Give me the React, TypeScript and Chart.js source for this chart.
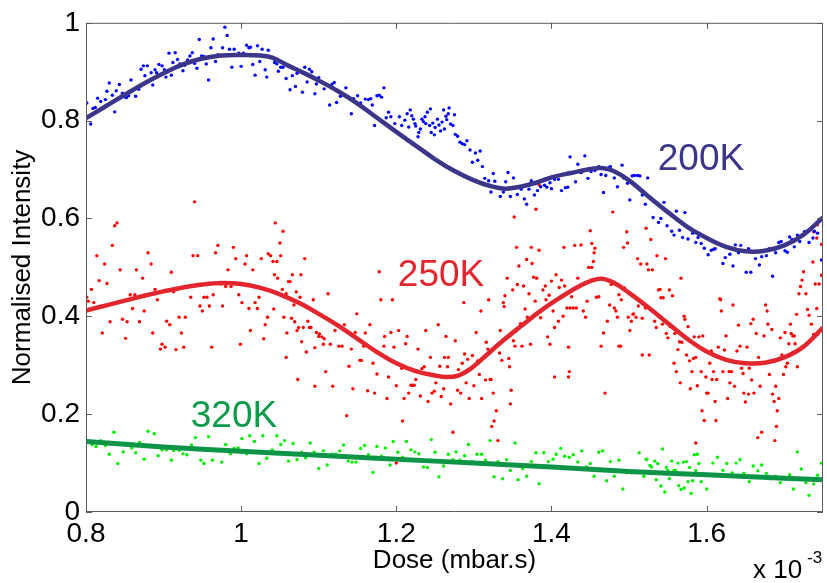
import React, { useEffect, useRef } from "react";
import { Chart, registerables } from "chart.js";

Chart.register(...registerables);

const FONT = "'Liberation Sans', Arial, Helvetica, sans-serif";

// Axis ticks (dose in units of 1e-3 mbar.s)
const doseTicks = [0.8, 1.0, 1.2, 1.4, 1.6];
const intensityTicks = [0, 0.2, 0.4, 0.6, 0.8, 1];

// Measured normalised intensity, 200 K
const points200K: [number, number][] = [
  [0.801,0.836],[0.806,0.793],[0.809,0.825],[0.812,0.827],[0.815,0.846],[0.819,0.839],[0.825,0.843],[0.827,0.86],[0.830,0.877],[0.834,0.852],
  [0.837,0.818],[0.839,0.861],[0.843,0.874],[0.847,0.856],[0.851,0.848],[0.852,0.847],[0.855,0.851],[0.858,0.883],[0.864,0.85],[0.868,0.864],
  [0.871,0.905],[0.874,0.912],[0.876,0.892],[0.879,0.912],[0.884,0.898],[0.886,0.873],[0.889,0.904],[0.891,0.898],[0.894,0.915],[0.898,0.912],
  [0.901,0.904],[0.903,0.889],[0.907,0.938],[0.910,0.893],[0.912,0.919],[0.915,0.939],[0.918,0.925],[0.921,0.916],[0.925,0.902],[0.927,0.913],
  [0.931,0.924],[0.934,0.932],[0.937,0.939],[0.940,0.917],[0.943,0.907],[0.946,0.966],[0.949,0.932],[0.952,0.931],[0.955,0.916],[0.958,0.883],
  [0.961,0.949],[0.964,0.967],[0.967,0.921],[0.970,0.935],[0.976,0.949],[0.979,0.991],[0.982,0.974],[0.985,0.946],[0.988,0.909],[0.991,0.946],
  [0.997,0.938],[1.000,0.911],[1.003,0.938],[1.007,0.954],[1.010,0.949],[1.012,0.95],[1.015,0.915],[1.018,0.893],[1.021,0.953],[1.024,0.921],
  [1.027,0.946],[1.031,0.904],[1.033,0.889],[1.035,0.944],[1.043,0.919],[1.046,0.916],[1.048,0.901],[1.051,0.909],[1.054,0.909],[1.058,0.886],
  [1.063,0.863],[1.066,0.892],[1.070,0.87],[1.072,0.897],[1.079,0.858],[1.082,0.909],[1.085,0.879],[1.088,0.905],[1.091,0.9],[1.095,0.855],
  [1.097,0.875],[1.100,0.888],[1.107,0.865],[1.110,0.874],[1.117,0.874],[1.120,0.878],
  [1.114,0.832],[1.123,0.837],[1.128,0.850],[1.135,0.867],[1.145,0.845],[1.150,0.851],[1.154,0.836],[1.160,0.844],[1.164,0.843],[1.167,0.845],
  [1.169,0.832],[1.172,0.790],[1.175,0.851],[1.178,0.852],[1.181,0.848],[1.184,0.867],[1.142,0.814],[1.187,0.806],[1.190,0.817],[1.193,0.808],
  [1.198,0.794],[1.204,0.808],[1.207,0.790],[1.211,0.801],[1.214,0.814],[1.216,0.787],[1.218,0.822],[1.220,0.810],[1.222,0.803],[1.224,0.794],
  [1.225,0.789],[1.228,0.767],[1.229,0.776],[1.231,0.783],[1.233,0.803],[1.235,0.798],[1.237,0.808],[1.238,0.794],[1.240,0.817],[1.243,0.790],
  [1.244,0.824],[1.245,0.776],[1.247,0.795],[1.249,0.771],[1.250,0.786],[1.253,0.803],[1.255,0.791],[1.257,0.779],[1.259,0.797],[1.261,0.822],
  [1.262,0.783],[1.264,0.809],[1.265,0.802],[1.267,0.814],[1.268,0.826],[1.270,0.793],[1.273,0.790],[1.275,0.812],[1.276,0.772],[1.279,0.768],
  [1.282,0.756],[1.285,0.753],[1.288,0.751],[1.291,0.759],[1.295,0.740],[1.298,0.715],[1.302,0.734],[1.305,0.719],[1.308,0.738],[1.311,0.706],
  [1.314,0.682],[1.319,0.677],[1.322,0.654],[1.325,0.692],[1.327,0.676],[1.334,0.645],[1.338,0.654],[1.341,0.675],[1.344,0.694],[1.347,0.645],
  [1.351,0.683],[1.356,0.649],[1.361,0.660],[1.365,0.640],[1.368,0.629],[1.371,0.660],[1.374,0.677],[1.378,0.648],[1.382,0.657],[1.386,0.665],
  [1.391,0.668],[1.394,0.664],[1.398,0.673],[1.400,0.661],[1.404,0.680],[1.409,0.680],[1.413,0.657],[1.418,0.663],[1.421,0.664],
  [1.424,0.726],[1.431,0.675],[1.434,0.711],[1.438,0.694],[1.439,0.695],[1.443,0.728],[1.447,0.682],[1.451,0.696],[1.456,0.698],[1.461,0.706],
  [1.464,0.690],[1.467,0.653],[1.470,0.688],[1.475,0.705],[1.476,0.706],[1.481,0.683],[1.485,0.665],[1.491,0.709],[1.493,0.683],[1.498,0.672],
  [1.501,0.638],[1.504,0.687],[1.507,0.688],[1.511,0.688],[1.514,0.687],[1.517,0.648],[1.521,0.629],[1.524,0.683],[1.531,0.602],[1.535,0.633],
  [1.538,0.592],[1.541,0.600],[1.545,0.633],[1.549,0.585],[1.552,0.611],[1.555,0.574],[1.558,0.566],[1.561,0.615],[1.565,0.576],[1.569,0.561],
  [1.572,0.612],[1.576,0.558],[1.582,0.570],[1.586,0.551],[1.589,0.561],[1.593,0.549],[1.597,0.539],[1.602,0.526],[1.606,0.535],[1.609,0.537],
  [1.611,0.538],[1.621,0.508],[1.624,0.520],[1.630,0.527],[1.634,0.503],[1.637,0.546],[1.641,0.530],[1.644,0.545],[1.651,0.490],[1.654,0.538],
  [1.657,0.490],[1.663,0.518],[1.668,0.505],[1.671,0.522],[1.677,0.524],[1.681,0.538],[1.685,0.482],[1.689,0.530],[1.693,0.551],[1.696,0.553],
  [1.701,0.534],[1.704,0.531],[1.707,0.562],[1.710,0.557],[1.713,0.542],[1.717,0.566],[1.720,0.553],[1.726,0.573],[1.729,0.574],[1.732,0.551],
  [1.737,0.560],[1.739,0.574],[1.743,0.570],[1.748,0.515],
];

// Measured normalised intensity, 250 K
const points250K: [number, number][] = [
  [0.801,0.439],[0.803,0.431],[0.807,0.455],[0.810,0.428],[0.814,0.524],[0.817,0.473],[0.821,0.366],[0.824,0.507],[0.827,0.467],[0.831,0.389],
  [0.834,0.545],[0.837,0.585],[0.840,0.591],[0.844,0.495],[0.847,0.394],[0.851,0.355],[0.853,0.389],[0.857,0.444],[0.860,0.416],[0.863,0.444],
  [0.865,0.495],[0.869,0.389],[0.873,0.478],[0.875,0.411],[0.880,0.530],[0.884,0.507],[0.886,0.366],[0.889,0.455],[0.892,0.434],[0.896,0.333],
  [0.898,0.343],[0.902,0.337],[0.904,0.390],[0.908,0.383],[0.910,0.490],[0.913,0.450],[0.916,0.332],[0.920,0.398],[0.923,0.366],[0.926,0.337],
  [0.928,0.398],[0.932,0.461],[0.935,0.439],[0.938,0.524],[0.940,0.634],[0.944,0.524],[0.947,0.421],[0.950,0.411],[0.952,0.439],[0.956,0.439],
  [0.959,0.421],[0.962,0.337],[0.964,0.444],[0.967,0.530],[0.970,0.545],[0.974,0.466],[0.976,0.421],[0.980,0.461],[0.983,0.495],[0.987,0.461],
  [0.990,0.541],[0.993,0.518],[0.997,0.444],[0.999,0.343],[1.001,0.428],[1.005,0.507],[1.007,0.524],[1.010,0.416],[1.012,0.371],[1.015,0.495],
  [1.018,0.428],[1.021,0.416],[1.023,0.439],[1.026,0.518],[1.029,0.354],[1.031,0.383],[1.034,0.398],[1.035,0.528],[1.038,0.524],[1.041,0.512],
  [1.042,0.415],[1.043,0.485],[1.044,0.591],[1.046,0.512],[1.047,0.478],[1.050,0.550],[1.051,0.524],[1.053,0.455],[1.054,0.574],[1.055,0.398],
  [1.056,0.439],[1.058,0.446],[1.059,0.366],[1.061,0.471],[1.063,0.471],[1.065,0.396],[1.066,0.485],[1.068,0.423],[1.069,0.389],[1.071,0.450],
  [1.072,0.371],[1.074,0.377],[1.076,0.439],[1.077,0.485],[1.078,0.348],[1.080,0.377],[1.082,0.518],[1.084,0.327],[1.086,0.390],[1.088,0.377],
  [1.090,0.377],[1.093,0.434],[1.095,0.336],[1.097,0.367],[1.100,0.359],[1.101,0.364],[1.104,0.358],[1.106,0.343],[1.107,0.354],[1.109,0.287],
  [1.112,0.446],[1.115,0.343],[1.118,0.257],[1.095,0.257],[1.073,0.271],[1.058,0.316],
  [1.121,0.371],[1.126,0.339],[1.130,0.339],[1.133,0.383],[1.136,0.197],[1.139,0.298],[1.142,0.333],[1.144,0.252],[1.147,0.367],[1.149,0.405],
  [1.153,0.310],[1.155,0.310],[1.158,0.339],[1.160,0.366],[1.163,0.248],[1.166,0.383],[1.170,0.304],[1.172,0.243],[1.175,0.282],[1.178,0.491],
  [1.180,0.434],[1.184,0.339],[1.185,0.359],[1.188,0.232],[1.190,0.276],[1.193,0.367],[1.195,0.434],[1.197,0.337],[1.200,0.258],[1.203,0.371],
  [1.207,0.294],[1.208,0.186],[1.210,0.232],[1.212,0.344],[1.214,0.359],[1.216,0.243],[1.219,0.259],[1.221,0.259],[1.223,0.259],[1.225,0.271],
  [1.228,0.333],[1.231,0.237],[1.233,0.293],[1.236,0.297],[1.238,0.371],[1.241,0.226],[1.244,0.316],[1.246,0.243],[1.249,0.247],[1.251,0.264],
  [1.254,0.383],[1.256,0.298],[1.258,0.236],[1.261,0.252],[1.262,0.316],[1.264,0.359],[1.266,0.297],[1.267,0.316],[1.270,0.221],[1.273,0.163],
  [1.276,0.350],[1.279,0.249],[1.280,0.291],[1.283,0.243],[1.285,0.304],[1.287,0.428],[1.288,0.323],[1.290,0.264],[1.292,0.312],[1.294,0.232],
  [1.297,0.294],[1.298,0.320],[1.300,0.258],[1.303,0.367],[1.305,0.309],[1.307,0.281],[1.309,0.411],[1.310,0.232],[1.313,0.316],[1.315,0.270],
  [1.316,0.347],[1.318,0.333],[1.319,0.434],[1.321,0.271],[1.322,0.271],[1.323,0.175],[1.325,0.243],[1.326,0.186],[1.329,0.207],[1.331,0.146],
  [1.333,0.325],[1.334,0.371],[1.336,0.310],[1.338,0.428],[1.339,0.420],[1.340,0.442],[1.343,0.478],[1.345,0.314],[1.346,0.297],[1.347,0.221],
  [1.348,0.249],[1.350,0.454],[1.351,0.350],[1.353,0.339],[1.355,0.541],[1.356,0.465],[1.358,0.503],[1.360,0.385],[1.362,0.339],[1.364,0.462],
  [1.366,0.415],[1.368,0.516],[1.369,0.398],[1.371,0.446],[1.373,0.343],[1.374,0.541],[1.375,0.508],[1.377,0.480],[1.379,0.431],[1.381,0.478],
  [1.384,0.535],[1.386,0.397],[1.389,0.454],[1.392,0.462],[1.393,0.434],[1.395,0.358],[1.397,0.443],[1.398,0.343],[1.400,0.472],[1.402,0.411],
  [1.404,0.377],[1.406,0.485],[1.409,0.390],[1.410,0.459],[1.413,0.474],[1.415,0.400],[1.416,0.541],[1.417,0.462],[1.420,0.417],[1.422,0.337],
  [1.423,0.287],[1.424,0.417],[1.426,0.440],[1.428,0.417],[1.430,0.545],[1.432,0.417],[1.434,0.478],[1.404,0.276],[1.422,0.276],
  [1.352,0.603],[1.380,0.619],[1.384,0.669],[1.200,0.100],
  [1.438,0.546],[1.441,0.411],[1.444,0.398],[1.446,0.431],[1.448,0.500],[1.450,0.575],[1.452,0.500],[1.452,0.549],[1.455,0.530],[1.454,0.512],
  [1.456,0.539],[1.458,0.439],[1.461,0.440],[1.464,0.339],[1.467,0.366],[1.469,0.243],[1.472,0.390],[1.475,0.423],[1.477,0.465],[1.479,0.613],
  [1.481,0.417],[1.483,0.411],[1.485,0.398],[1.487,0.339],[1.489,0.339],[1.487,0.444],[1.490,0.434],[1.493,0.541],[1.494,0.458],[1.497,0.573],
  [1.498,0.550],[1.499,0.398],[1.501,0.371],[1.503,0.390],[1.505,0.404],[1.506,0.405],[1.509,0.398],[1.511,0.518],[1.512,0.421],[1.515,0.507],
  [1.517,0.321],[1.517,0.396],[1.521,0.417],[1.522,0.580],[1.523,0.507],[1.525,0.495],[1.526,0.321],[1.528,0.557],[1.530,0.495],[1.533,0.390],
  [1.535,0.377],[1.536,0.524],[1.538,0.454],[1.540,0.455],[1.541,0.438],[1.543,0.384],[1.544,0.438],[1.547,0.518],[1.548,0.365],[1.550,0.356],
  [1.552,0.454],[1.553,0.379],[1.556,0.442],[1.558,0.304],[1.559,0.365],[1.561,0.287],[1.563,0.332],[1.565,0.348],[1.566,0.264],[1.567,0.478],
  [1.568,0.347],[1.571,0.400],[1.572,0.394],[1.574,0.321],[1.576,0.379],[1.578,0.309],[1.579,0.252],[1.581,0.287],[1.583,0.314],[1.584,0.358],
  [1.586,0.316],[1.588,0.258],[1.590,0.358],[1.593,0.287],[1.594,0.207],[1.595,0.360],[1.597,0.187],[1.599,0.276],[1.600,0.243],[1.602,0.243],
  [1.604,0.304],[1.606,0.329],[1.607,0.271],[1.609,0.287],[1.611,0.226],[1.612,0.187],[1.613,0.271],[1.615,0.337],[1.617,0.436],[1.618,0.434],
  [1.619,0.411],[1.621,0.287],[1.623,0.331],[1.625,0.360],[1.627,0.232],[1.629,0.287],[1.630,0.264],[1.632,0.287],[1.634,0.423],[1.636,0.257],
  [1.639,0.329],[1.641,0.382],[1.643,0.339],[1.645,0.294],[1.647,0.283],[1.648,0.243],[1.650,0.225],[1.652,0.337],[1.654,0.241],[1.655,0.294],
  [1.657,0.385],[1.658,0.270],[1.660,0.394],[1.661,0.243],[1.664,0.365],[1.666,0.152],[1.667,0.316],[1.669,0.257],[1.671,0.163],[1.672,0.304],
  [1.674,0.360],[1.676,0.423],[1.678,0.411],[1.679,0.384],[1.681,0.281],[1.684,0.373],[1.685,0.241],[1.687,0.226],[1.689,0.257],[1.690,0.175],
  [1.691,0.207],[1.693,0.232],[1.695,0.356],[1.697,0.321],[1.699,0.281],[1.701,0.367],[1.702,0.297],[1.704,0.304],[1.706,0.344],[1.708,0.384],
  [1.709,0.365],[1.711,0.360],[1.713,0.360],[1.714,0.344],[1.716,0.404],[1.717,0.297],[1.719,0.446],[1.721,0.461],[1.723,0.474],[1.725,0.491],
  [1.728,0.446],[1.730,0.414],[1.732,0.402],[1.735,0.384],[1.737,0.511],[1.738,0.363],[1.740,0.466],[1.742,0.416],[1.743,0.363],[1.745,0.466],
  [1.748,0.484],[1.743,0.587],[1.738,0.573],[1.742,0.560],[1.748,0.547],[1.586,0.141],[1.688,0.146],
];

// Measured normalised intensity, 320 K
const points320K: [number, number][] = [
  [0.802,0.144],[0.808,0.138],[0.813,0.134],[0.819,0.146],[0.825,0.136],[0.830,0.118],[0.836,0.163],[0.841,0.099],[0.848,0.123],[0.853,0.140],
  [0.859,0.131],[0.864,0.121],[0.869,0.142],[0.875,0.108],[0.880,0.165],[0.888,0.160],[0.893,0.115],[0.898,0.127],[0.904,0.127],[0.910,0.106],
  [0.913,0.126],[0.920,0.126],[0.925,0.119],[0.930,0.117],[0.936,0.137],[0.941,0.152],[0.948,0.106],[0.952,0.099],[0.958,0.154],[0.963,0.106],
  [0.970,0.125],[0.975,0.102],[0.980,0.138],[0.986,0.119],[0.991,0.130],[0.996,0.131],[1.001,0.150],[1.007,0.119],[1.011,0.156],[1.017,0.144],
  [1.023,0.099],[1.028,0.156],[1.033,0.110],[1.040,0.127],[1.046,0.156],[1.051,0.138],[1.056,0.146],[1.061,0.104],[1.067,0.140],[1.072,0.107],
  [1.078,0.122],[1.083,0.111],[1.089,0.141],[1.094,0.122],[1.100,0.089],[1.106,0.125],[1.111,0.096],[1.117,0.118],[1.122,0.118],[1.127,0.125],
  [1.132,0.137],[1.138,0.104],[1.143,0.102],[1.148,0.102],[1.154,0.130],[1.159,0.136],[1.164,0.117],[1.170,0.081],[1.175,0.134],[1.181,0.114],
  [1.186,0.131],[1.192,0.096],[1.196,0.144],[1.202,0.122],[1.208,0.112],[1.213,0.144],[1.219,0.127],[1.224,0.123],[1.229,0.119],[1.235,0.092],
  [1.240,0.091],[1.245,0.148],[1.250,0.122],[1.255,0.072],[1.261,0.094],[1.267,0.118],[1.273,0.107],
  [1.277,0.123],[1.282,0.106],[1.288,0.115],[1.293,0.138],[1.298,0.103],[1.304,0.118],[1.310,0.118],[1.315,0.106],[1.321,0.146],[1.326,0.072],
  [1.331,0.103],[1.337,0.068],[1.342,0.107],[1.347,0.085],[1.353,0.141],[1.357,0.066],[1.363,0.089],[1.368,0.073],[1.374,0.103],[1.380,0.121],
  [1.384,0.058],[1.390,0.121],[1.396,0.103],[1.402,0.108],[1.406,0.118],[1.412,0.130],[1.417,0.114],[1.423,0.112],[1.428,0.117],[1.434,0.102],
  [1.439,0.125],[1.445,0.092],[1.450,0.099],[1.455,0.073],[1.461,0.122],[1.466,0.125],[1.471,0.064],[1.476,0.103],[1.481,0.073],[1.487,0.106],
  [1.492,0.047],[1.498,0.080],[1.503,0.080],[1.513,0.121],[1.519,0.073],[1.522,0.108],[1.523,0.107],[1.527,0.095],[1.529,0.092],[1.533,0.104],
  [1.535,0.066],[1.537,0.099],[1.541,0.053],[1.543,0.129],[1.546,0.041],[1.548,0.091],[1.550,0.085],[1.552,0.068],[1.555,0.104],[1.558,0.085],
  [1.560,0.085],[1.563,0.100],[1.564,0.054],[1.567,0.046],[1.570,0.102],[1.571,0.049],[1.574,0.103],[1.576,0.062],[1.578,0.091],[1.580,0.038],
  [1.582,0.064],[1.584,0.117],[1.586,0.085],[1.588,0.118],[1.590,0.099],[1.593,0.062],[1.600,0.047],[1.608,0.100],[1.614,0.112],[1.621,0.085],
  [1.626,0.099],[1.633,0.080],[1.638,0.100],[1.643,0.107],[1.648,0.079],[1.655,0.062],[1.660,0.094],[1.666,0.084],[1.671,0.096],[1.677,0.079],
  [1.683,0.068],[1.689,0.073],[1.695,0.060],[1.701,0.068],[1.707,0.076],[1.712,0.047],[1.717,0.123],[1.722,0.088],[1.728,0.060],[1.732,0.034],
  [1.738,0.057],[1.743,0.075],[1.748,0.100],
];

// Smoothed fits
const fitDose200 = [0.8,0.825,0.85,0.875,0.9,0.925,0.95,0.975,1.0,1.025,1.04,1.06,1.08,1.1,1.125,1.15,1.175,1.2,1.225,1.25,1.275,1.3,1.32,1.34,1.36,1.38,1.4,1.425,1.45,1.465,1.48,1.5,1.525,1.55,1.575,1.6,1.625,1.65,1.675,1.7,1.725,1.75];
const fitValues200 = [0.805,0.829,0.853,0.876,0.897,0.915,0.927,0.933,0.934,0.933,0.929,0.913,0.898,0.882,0.86,0.835,0.806,0.777,0.749,0.721,0.697,0.678,0.667,0.661,0.665,0.673,0.684,0.693,0.701,0.703,0.697,0.678,0.645,0.613,0.583,0.56,0.542,0.533,0.534,0.545,0.567,0.602];

const fitDose250 = [0.8,0.825,0.85,0.875,0.9,0.925,0.95,0.975,1.0,1.025,1.05,1.075,1.1,1.125,1.15,1.175,1.2,1.225,1.25,1.265,1.28,1.295,1.31,1.335,1.36,1.385,1.41,1.435,1.45,1.465,1.48,1.5,1.525,1.55,1.575,1.6,1.625,1.65,1.675,1.7,1.725,1.75];
const fitValues250 = [0.412,0.422,0.432,0.442,0.451,0.459,0.465,0.468,0.466,0.458,0.445,0.427,0.405,0.381,0.354,0.327,0.304,0.288,0.279,0.276,0.279,0.292,0.312,0.347,0.379,0.41,0.437,0.461,0.472,0.477,0.469,0.448,0.418,0.386,0.354,0.328,0.311,0.304,0.305,0.316,0.338,0.377];

const fitDose320 = [0.8,0.9,1.0,1.1,1.2,1.3,1.4,1.5,1.6,1.7,1.75];
const fitValues320 = [0.144,0.133,0.124,0.116,0.108,0.1,0.092,0.083,0.076,0.069,0.066];

const curveLabels = [
  { text: "200K", dose: 1.537, value: 0.699, color: "#3b3689" },
  { text: "250K", dose: 1.202, value: 0.463, color: "#e3262e" },
  { text: "320K", dose: 0.935, value: 0.173, color: "#0c9a4b" },
];

const AXIS_COLOR = "#5c5c5c";

const toXY = (pts: [number, number][]) => pts.map(([x, y]) => ({ x, y }));
const zipXY = (xs: number[], ys: number[]) => xs.map((x, i) => ({ x, y: ys[i] }));

const framePlugin = {
  id: "frame",
  afterDatasetsDraw(chart: any) {
    const { ctx, chartArea: a, scales } = chart;
    const xs = scales.x;
    const ys = scales.y;
    const tick = 6;
    ctx.save();
    ctx.strokeStyle = AXIS_COLOR;
    ctx.lineWidth = 1;
    ctx.beginPath();
    ctx.rect(a.left + 0.5, a.top + 0.5, a.right - a.left - 1, a.bottom - a.top - 1);
    for (const v of doseTicks) {
      const px = Math.round(xs.getPixelForValue(v)) + 0.5;
      ctx.moveTo(px, a.bottom);
      ctx.lineTo(px, a.bottom - tick);
      ctx.moveTo(px, a.top);
      ctx.lineTo(px, a.top + tick);
    }
    for (const v of intensityTicks) {
      const py = Math.round(ys.getPixelForValue(v)) + 0.5;
      ctx.moveTo(a.left, py);
      ctx.lineTo(a.left + tick, py);
      ctx.moveTo(a.right, py);
      ctx.lineTo(a.right - tick, py);
    }
    ctx.stroke();

    // series labels
    ctx.textAlign = "left";
    ctx.textBaseline = "alphabetic";
    ctx.font = `37px ${FONT}`;
    for (const l of curveLabels) {
      ctx.fillStyle = l.color;
      ctx.fillText(l.text, xs.getPixelForValue(l.dose), ys.getPixelForValue(l.value));
    }

    // axis multiplier
    ctx.fillStyle = "#000";
    ctx.font = `26px ${FONT}`;
    ctx.fillText("x 10", a.right - 70, a.bottom + 66);
    ctx.font = `17px ${FONT}`;
    ctx.fillText("-3", a.right - 16, a.bottom + 51);
    ctx.restore();
  },
};

export default function App() {
  const canvasRef = useRef<HTMLCanvasElement | null>(null);

  useEffect(() => {
    const canvas = canvasRef.current;
    if (!canvas) return;
    const chart = new Chart(canvas, {
      type: "scatter",
      data: {
        datasets: [
          { label: "200K fit", type: "line", data: zipXY(fitDose200, fitValues200), borderColor: "#3b3689", borderWidth: 4.5, pointRadius: 0, tension: 0.4, order: 0 },
          { label: "250K fit", type: "line", data: zipXY(fitDose250, fitValues250), borderColor: "#e3262e", borderWidth: 4.5, pointRadius: 0, tension: 0.4, order: 0 },
          { label: "320K fit", type: "line", data: zipXY(fitDose320, fitValues320), borderColor: "#0c9447", borderWidth: 5, pointRadius: 0, tension: 0.4, order: 0 },
          { label: "200K", data: toXY(points200K), backgroundColor: "#0000ff", pointRadius: 1.7, pointBorderWidth: 0, order: 1 },
          { label: "250K", data: toXY(points250K), backgroundColor: "#ff0000", pointRadius: 1.7, pointBorderWidth: 0, order: 1 },
          { label: "320K", data: toXY(points320K), backgroundColor: "#00f000", pointRadius: 1.7, pointBorderWidth: 0, order: 1 },
        ],
      } as any,
      options: {
        responsive: false,
        animation: false,
        events: [],
        layout: { padding: { top: 20, right: 1, left: 0, bottom: 0 } },
        plugins: { legend: { display: false }, tooltip: { enabled: false } },
        scales: {
          x: {
            type: "linear",
            min: 0.8,
            max: 1.75,
            grid: { display: false, drawTicks: false },
            border: { display: false },
            ticks: {
              stepSize: 0.2,
              includeBounds: false,
              padding: 5,
              color: "#000",
              font: { family: FONT, size: 28 },
              maxRotation: 0,
              callback: (v: any) => String(Number(Number(v).toFixed(1))),
            },
            title: { display: true, text: "Dose (mbar.s)", color: "#000", font: { family: FONT, size: 26 }, padding: { top: 0, bottom: 7 } },
            afterFit: (s: any) => { s.height = 71; },
          },
          y: {
            type: "linear",
            min: 0,
            max: 1,
            grid: { display: false, drawTicks: false },
            border: { display: false },
            ticks: {
              stepSize: 0.2,
              padding: 6,
              color: "#000",
              font: { family: FONT, size: 28 },
              callback: (v: any) => String(Number(Number(v).toFixed(1))),
            },
            title: { display: true, text: "Normalised Intensity", color: "#000", font: { family: FONT, size: 26 }, padding: { top: 7, bottom: 0 } },
            afterFit: (s: any) => { s.width = 86; },
          },
        },
      } as any,
      plugins: [framePlugin],
    });
    return () => chart.destroy();
  }, []);

  return (
    <div style={{ position: "absolute", left: 0, top: 0, width: 827, height: 583, background: "#fff" }}>
      <canvas ref={canvasRef} width={827} height={583} style={{ display: "block" }} />
    </div>
  );
}
